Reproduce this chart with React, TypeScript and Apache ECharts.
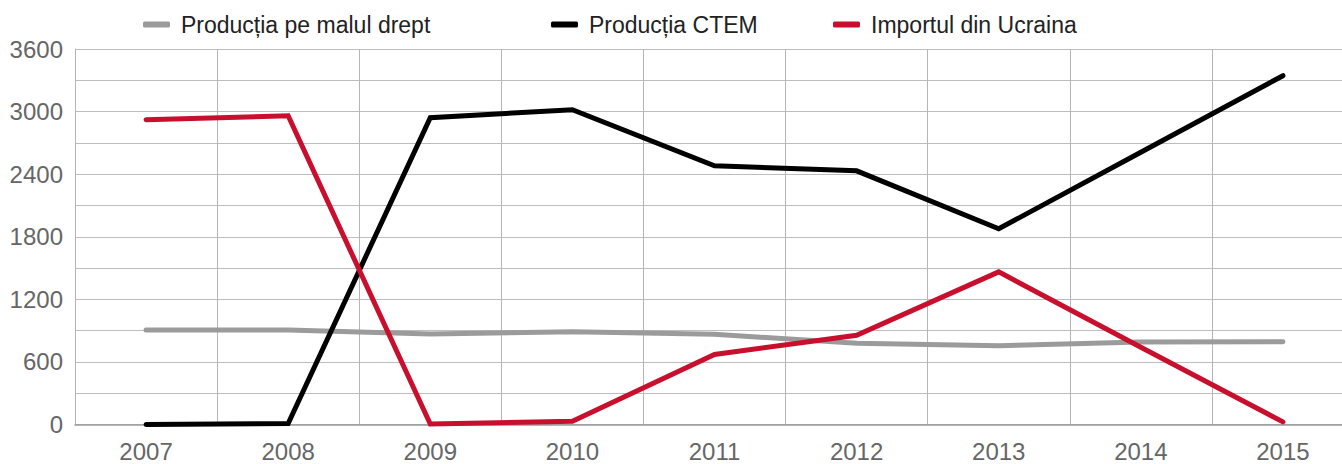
import React, { useEffect, useRef } from "react";
import * as echarts from "echarts";

const years = ["2007", "2008", "2009", "2010", "2011", "2012", "2013", "2014", "2015"];
const malulDrept = [907, 907, 867, 890, 865, 779, 756, 791, 794];
const ctem = [0, 10, 2941, 3018, 2480, 2432, 1876, 2610, 3344];
const importUcraina = [2922, 2960, 5, 30, 672, 856, 1463, 740, 25];
const seriesNames = ["Producția pe malul drept", "Producția CTEM", "Importul din Ucraina"];
const seriesColors = ["#9b9b9b", "#000000", "#c8102e"];
const legendLefts = [143, 551, 833];

const FONT = "'Liberation Sans', Arial, sans-serif";

export default function App() {
  const ref = useRef<HTMLDivElement>(null);
  useEffect(() => {
    document.body.style.margin = "0";
    const chart = echarts.init(ref.current!, undefined, { renderer: "svg" });
    const data = [malulDrept, ctem, importUcraina];
    chart.setOption({
      animation: false,
      grid: { left: 75, top: 49, width: 1279, height: 375.5, containLabel: false, outerBoundsMode: "none" },
      legend: seriesNames.map((name, i) => ({
        top: 13,
        left: legendLefts[i],
        padding: 0,
        itemWidth: 27,
        itemHeight: 6,
        icon: "roundRect",
        textStyle: { fontSize: 23, color: "#222", fontFamily: FONT, padding: [0, 0, 0, 6] },
        data: [name],
      })),
      xAxis: {
        type: "category",
        data: years,
        boundaryGap: true,
        axisLine: { show: true, lineStyle: { color: "#9a9a9a", width: 1.5 } },
        axisTick: { show: false },
        splitLine: { show: true, lineStyle: { color: "#b5b5b5", width: 1 } },
        axisLabel: { fontSize: 24, color: "#666", fontFamily: FONT, margin: 15 },
      },
      yAxis: {
        type: "value",
        min: 0,
        max: 3600,
        interval: 300,
        axisLine: { show: true, lineStyle: { color: "#b5b5b5", width: 1 } },
        axisTick: { show: false },
        splitLine: { show: true, lineStyle: { color: "#bdbdbd", width: 1 } },
        axisLabel: {
          fontSize: 24,
          color: "#666",
          fontFamily: FONT,
          margin: 12,
          formatter: (v: number) => (v % 600 === 0 ? String(v) : ""),
        },
      },
      series: seriesNames.map((name, i) => ({
        name,
        type: "line",
        data: data[i],
        symbol: "none",
        color: seriesColors[i],
        lineStyle: { width: 5, color: seriesColors[i], cap: "round", join: "miter" },
      })),
    });
    return () => chart.dispose();
  }, []);
  return <div ref={ref} style={{ width: 1342, height: 464, position: "absolute", left: 0, top: 0 }} />;
}
